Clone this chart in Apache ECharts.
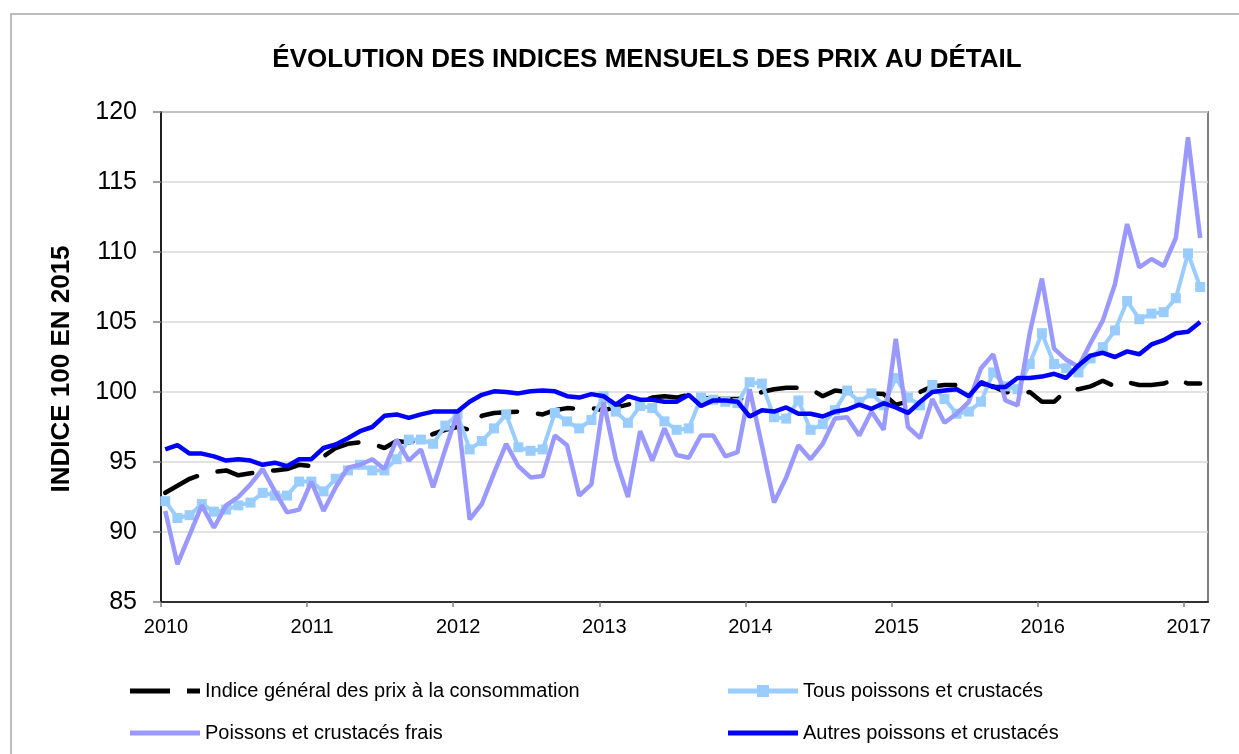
<!DOCTYPE html>
<html>
<head>
<meta charset="utf-8">
<title>Évolution des indices mensuels des prix au détail</title>
<script src="https://cdn.jsdelivr.net/npm/echarts@6/dist/echarts.min.js"></script>
<style>
  html, body { margin: 0; padding: 0; background: #fff; }
  #chart { width: 1239px; height: 754px; }
</style>
</head>
<body>
<div id="chart"></div>
<script>
// monthly indices, base 100 in 2015, Jan 2010 -> Feb 2017
var months = []
for (var y = 2010; y <= 2017; y++) {
  for (var m = 1; m <= 12; m++) {
    if (y === 2017 && m > 2) break
    months.push(y + '-' + (m < 10 ? '0' + m : m))
  }
}

var names = [
  'Indice général des prix à la consommation',
  'Tous poissons et crustacés',
  'Poissons et crustacés frais',
  'Autres poissons et crustacés'
]

var general = [
  92.8, 93.3, 93.8, 94.1, 94.3, 94.4, 94.05, 94.2, 94.3, 94.4, 94.5, 94.8,
  94.7, 95.4, 96.0, 96.3, 96.4, 96.3, 96.0, 96.5, 96.4, 96.6, 97.0, 97.3,
  97.5, 97.3, 98.3, 98.5, 98.55, 98.6, 98.5, 98.4, 98.7, 98.85, 98.8, 98.85,
  98.7, 98.9, 99.1, 99.3, 99.6, 99.7, 99.6, 99.8, 99.6, 99.5, 99.5, 99.5,
  99.6, 100.0, 100.2, 100.3, 100.3, 100.2, 99.7, 100.1, 100.0, 99.95, 99.9, 99.85,
  99.1, 99.3, 100.0, 100.4, 100.5, 100.5, 100.1, 100.6, 100.4, 100.0, 99.9, 100.0,
  99.3, 99.3, 100.1, 100.2, 100.4, 100.8, 100.4, 100.7, 100.5, 100.5, 100.6, 100.95,
  100.6, 100.6
]

var tous = [
  92.2, 91.0, 91.2, 92.0, 91.45, 91.6, 91.9, 92.1, 92.8, 92.6, 92.6, 93.6,
  93.6, 92.9, 93.8, 94.4, 94.8, 94.4, 94.4, 95.2, 96.6, 96.6, 96.3, 97.6,
  98.4, 95.9, 96.5, 97.4, 98.4, 96.05, 95.8, 95.9, 98.5, 97.9, 97.4, 98.0,
  99.7, 98.6, 97.8, 99.0, 98.85, 97.9, 97.3, 97.4, 99.6, 99.45, 99.3, 99.2,
  100.7, 100.6, 98.2, 98.1, 99.4, 97.3, 97.7, 98.7, 100.1, 99.3, 99.9, 99.05,
  101.0, 99.6, 99.05, 100.5, 99.5, 98.45, 98.6, 99.3, 101.4, 100.4, 100.2, 102.0,
  104.2, 102.0, 101.7, 101.4, 102.4, 103.2, 104.4, 106.5, 105.2, 105.6, 105.7, 106.7,
  109.9, 107.5
]

var frais = [
  91.5, 87.7, 89.8, 91.9, 90.3, 91.9, 92.5, 93.4, 94.5, 92.9, 91.4, 91.6,
  93.6, 91.5, 93.2, 94.6, 94.8, 95.2, 94.5, 96.6, 95.1, 95.9, 93.2, 95.9,
  98.5, 90.9, 92.0, 94.2, 96.3, 94.7, 93.9, 94.0, 96.9, 96.2, 92.6, 93.4,
  99.3, 95.2, 92.5, 97.2, 95.1, 97.4, 95.5, 95.3, 96.9, 96.9, 95.4, 95.7,
  100.2, 96.2, 92.1, 93.9, 96.2, 95.2, 96.3, 98.1, 98.2, 96.9, 98.6, 97.3,
  103.8, 97.5, 96.7, 99.5, 97.8, 98.45, 99.3, 101.7, 102.7, 99.4, 99.05, 104.2,
  108.1, 103.1, 102.3, 101.8, 103.5, 105.1, 107.7, 112.0, 108.9, 109.5, 109.0, 111.0,
  118.2, 111.0
]

var autres = [
  95.9, 96.2, 95.6, 95.6, 95.4, 95.1, 95.2, 95.1, 94.8, 94.95, 94.7, 95.2,
  95.2, 96.0, 96.25, 96.7, 97.2, 97.5, 98.3, 98.4, 98.15, 98.4, 98.6, 98.6,
  98.6, 99.3, 99.8, 100.05, 100.0, 99.9, 100.05, 100.1, 100.05, 99.7, 99.6, 99.85,
  99.7, 99.1, 99.7, 99.45, 99.45, 99.3, 99.3, 99.8, 99.0, 99.4, 99.4, 99.3,
  98.25, 98.7, 98.6, 98.9, 98.45, 98.45, 98.25, 98.6, 98.75, 99.1, 98.8, 99.2,
  98.9, 98.5, 99.3, 100.0, 100.1, 100.2, 99.7, 100.7, 100.35, 100.35, 101.0, 101.0,
  101.1, 101.3, 101.0, 101.9, 102.6, 102.8, 102.5, 102.9, 102.7, 103.4, 103.7, 104.2,
  104.3, 105.0
]

var FONT = '"Liberation Sans", Arial, sans-serif'

// month label -> position on the year axis (points sit about a third into the month)
function monthPos(label) {
  var p = label.split('-')
  return +p[0] + (+p[1] - 1 + 0.35) / 12
}

function pairs(values) {
  return values.map(function (v, i) {
    return [monthPos(months[i]), v]
  })
}

var chart = echarts.init(document.getElementById('chart'), null, { renderer: 'canvas' })

// legend icons drawn like the spreadsheet ones: thick line, long dash, square marker
function legendAt(name, left, top, icon, h) {
  return {
    data: [{ name: name, icon: icon }],
    left: left,
    top: top,
    padding: 0,
    itemWidth: 70,
    itemHeight: h,
    selectedMode: false,
    textStyle: { fontFamily: FONT, fontSize: 20, color: '#000' }
  }
}

var option = {
  animation: false,
  backgroundColor: '#fff',
  textStyle: { fontFamily: FONT },
  title: {
    text: 'ÉVOLUTION DES INDICES MENSUELS DES PRIX AU DÉTAIL',
    left: 642,
    top: 42,
    textAlign: 'center',
    textStyle: { fontFamily: FONT, fontSize: 26, fontWeight: 'bold', color: '#000' }
  },
  graphic: [
    {
      type: 'rect',
      shape: { x: 11, y: 14, width: 1260, height: 780 },
      style: { fill: 'none', stroke: '#a6a6a6', lineWidth: 1.5 },
      silent: true
    },
    {
      type: 'text',
      x: 62,
      y: 369,
      rotation: Math.PI / 2,
      style: {
        text: 'INDICE 100 EN 2015',
        font: 'bold 26px ' + FONT,
        fill: '#000',
        align: 'center',
        verticalAlign: 'middle'
      },
      silent: true
    }
  ],
  legend: [
    legendAt(names[0], 130, 681, 'path://M0,0H40V5H0Z M57,0H70V5H57Z', 5),
    legendAt(names[1], 728, 681, 'path://M0,3.5H70V8.5H0Z M29,0H41V12H29Z', 12),
    legendAt(names[2], 130, 723, 'rect', 5),
    legendAt(names[3], 728, 723, 'rect', 5)
  ],
  grid: {
    left: 161,
    top: 112,
    right: 31,
    bottom: 152,
    show: true,
    borderColor: '#808080',
    borderWidth: 2
  },
  xAxis: {
    type: 'value',
    min: 2010,
    max: 2017.166,
    interval: 1,
    axisLine: { lineStyle: { color: '#000', width: 1.5 } },
    axisTick: { inside: false, length: 5, lineStyle: { color: '#808080', width: 1.5 } },
    splitLine: { show: false },
    axisLabel: {
      fontFamily: FONT,
      fontSize: 20,
      color: '#000',
      margin: 15,
      padding: [0, 0, 0, 10],
      showMaxLabel: false,
      formatter: function (v) { return Math.abs(v - Math.round(v)) < 1e-6 ? String(Math.round(v)) : '' }
    }
  },
  yAxis: {
    type: 'value',
    min: 85,
    max: 120,
    interval: 5,
    axisLine: { show: true, lineStyle: { color: '#000', width: 1.5 } },
    axisTick: { show: true, inside: false, length: 8, lineStyle: { color: '#808080', width: 1.5 } },
    splitLine: { lineStyle: { color: '#d9d9d9', width: 1.5 } },
    axisLabel: { fontFamily: FONT, fontSize: 25, color: '#000', margin: 24 }
  },
  series: [
    {
      name: names[0],
      type: 'line',
      data: pairs(general),
      symbol: 'none',
      color: '#000',
      lineStyle: { color: '#000', width: 4.5, type: [36, 21], cap: 'round' },
      z: 2
    },
    {
      name: names[1],
      type: 'line',
      data: pairs(tous),
      symbol: 'rect',
      symbolSize: 10,
      showAllSymbol: true,
      color: '#99ccff',
      itemStyle: { color: '#99ccff' },
      lineStyle: { color: '#99ccff', width: 4 },
      z: 3
    },
    {
      name: names[2],
      type: 'line',
      data: pairs(frais),
      symbol: 'none',
      color: '#9999ff',
      lineStyle: { color: '#9999ff', width: 4.5 },
      z: 4
    },
    {
      name: names[3],
      type: 'line',
      data: pairs(autres),
      symbol: 'none',
      color: '#0000ff',
      lineStyle: { color: '#0000ff', width: 4.5 },
      z: 5
    }
  ]
}

chart.setOption(option)
</script>
</body>
</html>
